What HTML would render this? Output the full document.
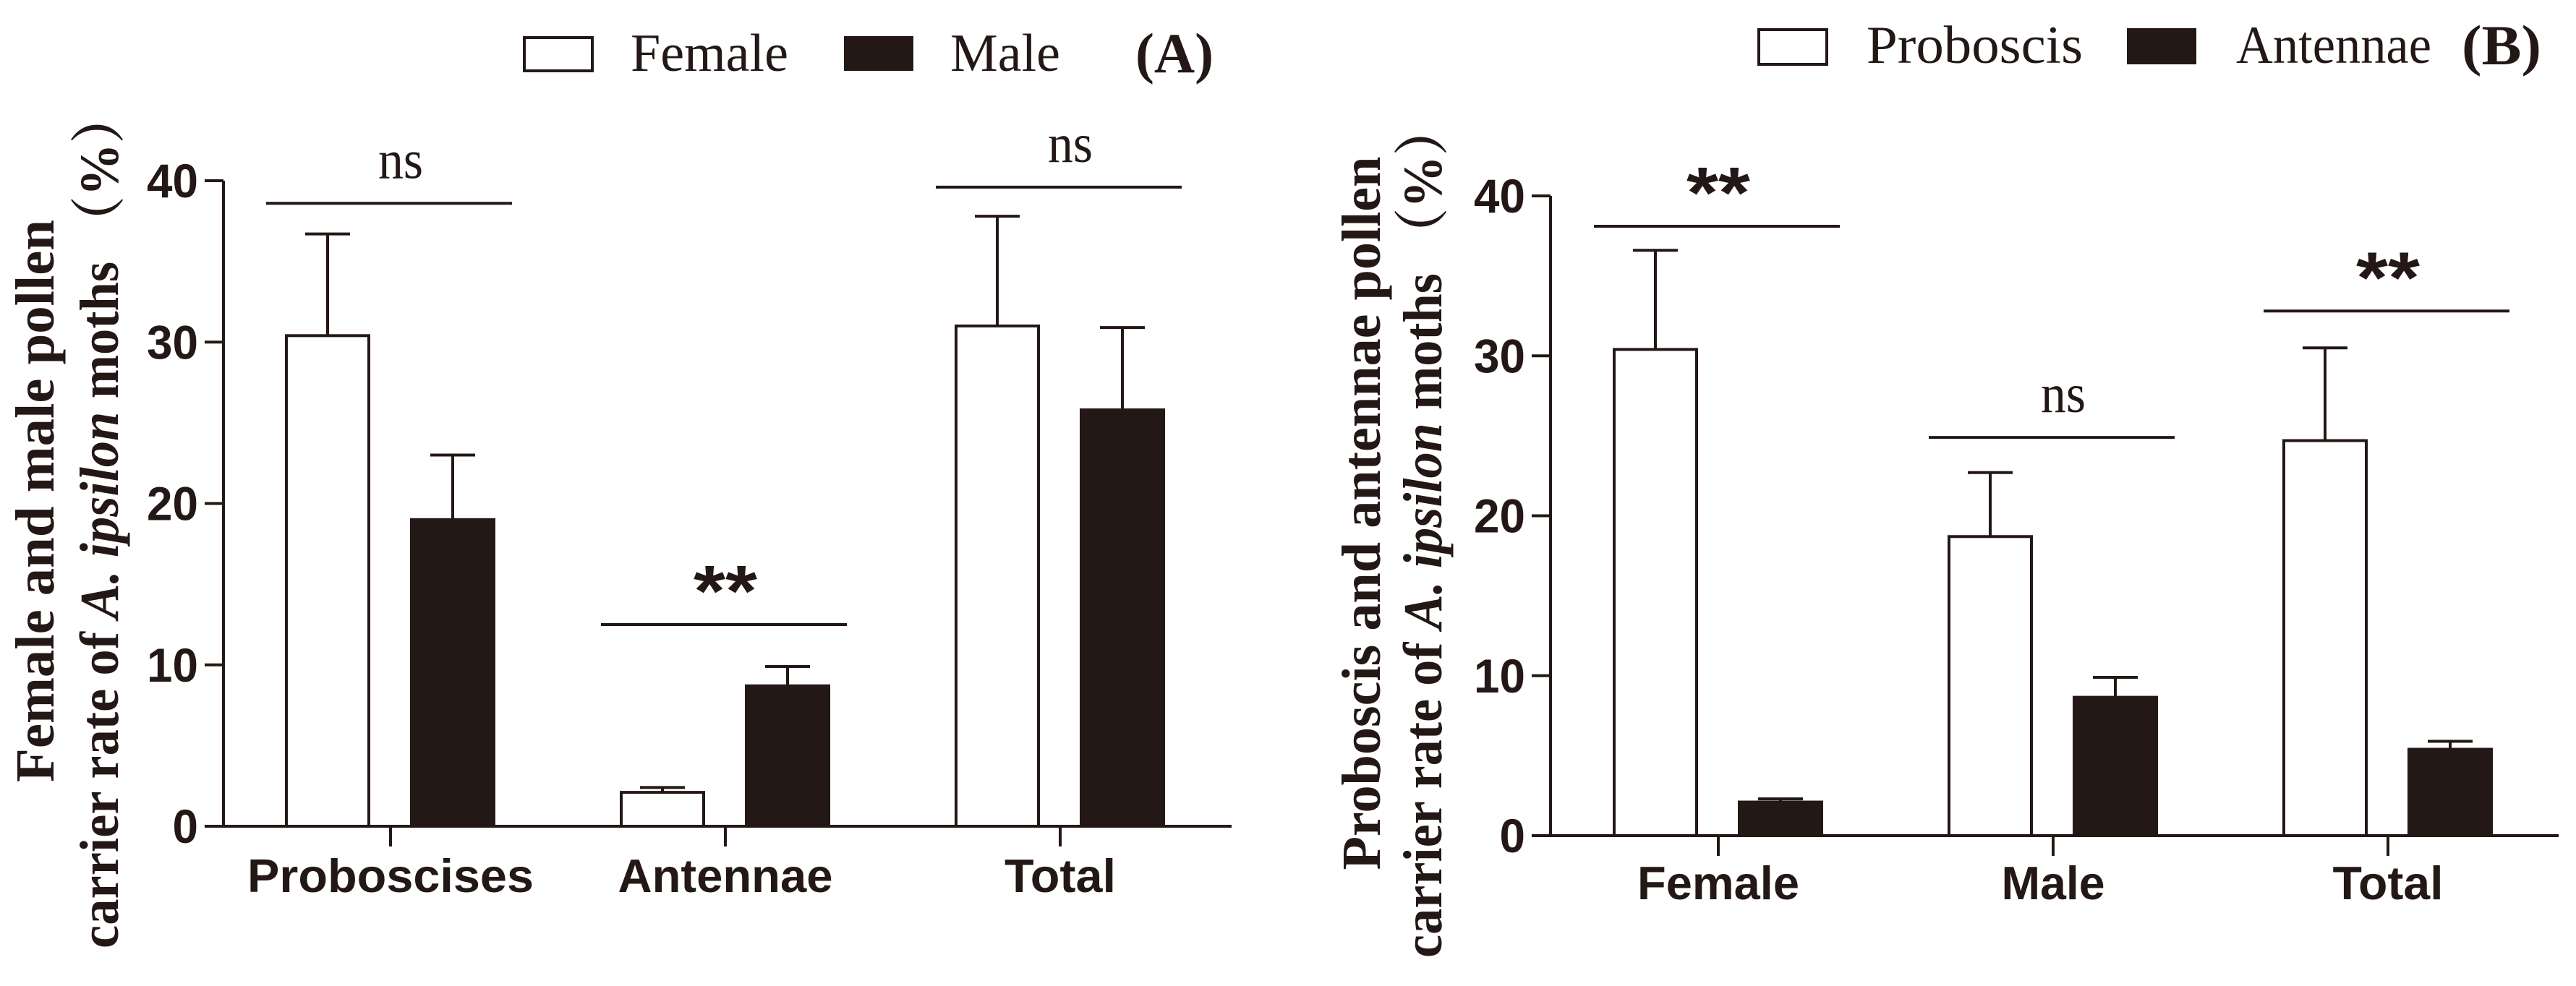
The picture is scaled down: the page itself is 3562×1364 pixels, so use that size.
<!DOCTYPE html>
<html><head><meta charset="utf-8"><style>
html,body{margin:0;padding:0;background:#fff}
svg{display:block}
.tk{font-family:"Liberation Sans",sans-serif;font-weight:bold;font-size:66px;fill:#231815}
.cat{font-family:"Liberation Sans",sans-serif;font-weight:bold;font-size:65px;fill:#231815}
.ser{font-family:"Liberation Serif",serif;fill:#231815}
.yt{font-family:"Liberation Serif","Noto Serif CJK SC",serif;font-weight:bold;font-size:76px;fill:#231815}
</style></head><body>
<svg id="chart" width="3562" height="1364" viewBox="0 0 3562 1364" xmlns="http://www.w3.org/2000/svg">
<g id="panelA"></g>
<g id="panelB"></g>
</svg>
<script>
// Panel A data
const catsA = ["Proboscises","Antennae","Total"];
const femaleA = [30.4, 2.1, 31.0];
const femaleErrA = [6.3, 0.3, 6.8];
const maleA = [19.0, 8.7, 25.8];
const maleErrA = [4.0, 1.2, 5.1];
const sigA = ["ns","**","ns"];
const sigLevelA = [38.6, 12.5, 39.6];
// Panel B data
const catsB = ["Female","Male","Total"];
const probB = [30.4, 18.7, 24.7];
const probErrB = [6.2, 4.0, 5.8];
const antB = [2.1, 8.65, 5.4];
const antErrB = [0.2, 1.25, 0.5];
const sigB = ["**","ns","**"];
const sigLevelB = [38.1, 24.9, 32.8];
const yTicks = [0,10,20,30,40];
const yTickLabels = ["0","10","20","30","40"];

const NS="http://www.w3.org/2000/svg";
const C="#231815";
function mk(parent,tag,attrs){const e=document.createElementNS(NS,tag);for(const k in attrs)e.setAttribute(k,attrs[k]);parent.appendChild(e);return e;}

function drawPanel(g,cfg){
  const y=v=>cfg.y0-(cfg.y0-cfg.y40)*v/40;
  const x=i=>cfg.cx0+i*cfg.step;
  let e=mk(g,'line',{x1:cfg.ax,y1:y(40),x2:cfg.ax,y2:y(0),stroke:C,'stroke-width':4});
  
  
  e=mk(g,'line',{x1:cfg.ax-26,y1:y(0),x2:cfg.xEnd,y2:y(0),stroke:C,'stroke-width':4});
  
  
  yTicks.forEach((t,i)=>{
    let l=mk(g,'line',{x1:cfg.ax-26,y1:y(t),x2:cfg.ax,y2:y(t),stroke:C,'stroke-width':4});
    
    
    const lab=yTickLabels[i];
    let tx=mk(g,'text',{x:cfg.ax-35,y:y(t)+23,'text-anchor':'end',class:'tk',textLength:lab.length*35.5,lengthAdjust:'spacingAndGlyphs'});
    tx.textContent=lab;
    
    
  });
  const series=[
    {vals:cfg.v1,errs:cfg.err1,fill:'#fff',off:-87,name:cfg.n1+'-bar'},
    {vals:cfg.v2,errs:cfg.err2,fill:C,off:86,name:cfg.n2+'-bar'}
  ];
  cfg.cats.forEach((c,i)=>{
    let l=mk(g,'line',{x1:x(i),y1:y(0),x2:x(i),y2:y(0)+28,stroke:C,'stroke-width':4});
    
    
    let t=mk(g,'text',{x:x(i),y:cfg.labY,'text-anchor':'middle',class:'cat',textLength:cfg.catW[i],lengthAdjust:'spacingAndGlyphs'});
    t.textContent=c;
    
    
    series.forEach(s=>{
      const v=s.vals[i],er=s.errs[i],cx=x(i)+s.off;
      let el=mk(g,'line',{x1:cx,y1:y(v),x2:cx,y2:y(v+er),stroke:C,'stroke-width':4});
      
      
      el=mk(g,'line',{x1:cx-31,y1:y(v+er),x2:cx+31,y2:y(v+er),stroke:C,'stroke-width':4});
      
      
      let r=mk(g,'rect',{x:cx-57,y:y(v),width:114,height:y(0)-y(v),fill:s.fill,stroke:C,'stroke-width':4});
      
      
    });
    const sy=y(cfg.sigLv[i]);
    let sl=mk(g,'line',{x1:x(i)-172,y1:sy,x2:x(i)+168,y2:sy,stroke:C,'stroke-width':4});
    
    
    const sig=cfg.sig[i];
    let st;
    if(sig=="**"){st=mk(g,'text',{x:x(i),y:sy-12,'text-anchor':'middle','font-family':'Liberation Sans, sans-serif','font-weight':'bold','font-size':100,fill:C,textLength:88,lengthAdjust:'spacingAndGlyphs'});}
    else{st=mk(g,'text',{x:x(i)+14,y:sy-35,'text-anchor':'middle',class:'ser','font-size':76,textLength:62,lengthAdjust:'spacingAndGlyphs'});}
    st.textContent=sig;
    
    
  });
}
drawPanel(document.getElementById('panelA'),{y0:1143,y40:250,ax:309,xEnd:1703,cx0:540,step:463,cats:catsA,catW:[396,297,154],labY:1234,
  v1:femaleA,err1:femaleErrA,v2:maleA,err2:maleErrA,sig:sigA,sigLv:sigLevelA,n1:'female',n2:'male'});
drawPanel(document.getElementById('panelB'),{y0:1156,y40:271,ax:2144,xEnd:3538,cx0:2376,step:463,cats:catsB,catW:[224,143,153],labY:1244,
  v1:probB,err1:probErrB,v2:antB,err2:antErrB,sig:sigB,sigLv:sigLevelB,n1:'proboscis',n2:'antennae'});
</script>
<svg style="position:absolute;left:0;top:0" width="3562" height="1364" viewBox="0 0 3562 1364" xmlns="http://www.w3.org/2000/svg">
<g>
<rect x="725" y="52" width="94" height="46" fill="#fff" stroke="#231815" stroke-width="4"/>
<text x="872" y="98" class="ser" font-size="74" textLength="218" lengthAdjust="spacingAndGlyphs">Female</text>
<rect x="1167" y="50" width="96" height="48" fill="#231815"/>
<text x="1314" y="98" class="ser" font-size="74" textLength="152" lengthAdjust="spacingAndGlyphs">Male</text>
<text x="1570" y="100" class="ser" font-weight="bold" font-size="78" textLength="108" lengthAdjust="spacingAndGlyphs">(A)</text>
</g>
<g>
<rect x="2432" y="41" width="94" height="48" fill="#fff" stroke="#231815" stroke-width="4"/>
<text x="2581" y="87" class="ser" font-size="74" textLength="299" lengthAdjust="spacingAndGlyphs">Proboscis</text>
<rect x="2941" y="39" width="96" height="50" fill="#231815"/>
<text x="3092" y="87" class="ser" font-size="74" textLength="270" lengthAdjust="spacingAndGlyphs">Antennae</text>
<text x="3404" y="89" class="ser" font-weight="bold" font-size="78" textLength="110" lengthAdjust="spacingAndGlyphs">(B)</text>
</g>
<text transform="translate(74,693) rotate(-90)" text-anchor="middle" class="yt" textLength="778" lengthAdjust="spacingAndGlyphs">Female and male pollen</text>
<text transform="translate(163,719) rotate(-90)" text-anchor="middle" class="yt" textLength="1186" lengthAdjust="spacingAndGlyphs">carrier rate of <tspan font-style="italic">A. ipsilon</tspan> moths （%）</text>
<text transform="translate(1908,710) rotate(-90)" text-anchor="middle" class="yt" textLength="987" lengthAdjust="spacingAndGlyphs">Proboscis and antennae pollen</text>
<text transform="translate(1993,734) rotate(-90)" text-anchor="middle" class="yt" textLength="1182" lengthAdjust="spacingAndGlyphs">carrier rate of <tspan font-style="italic">A. ipsilon</tspan> moths （%）</text>
</svg>
</body></html>
